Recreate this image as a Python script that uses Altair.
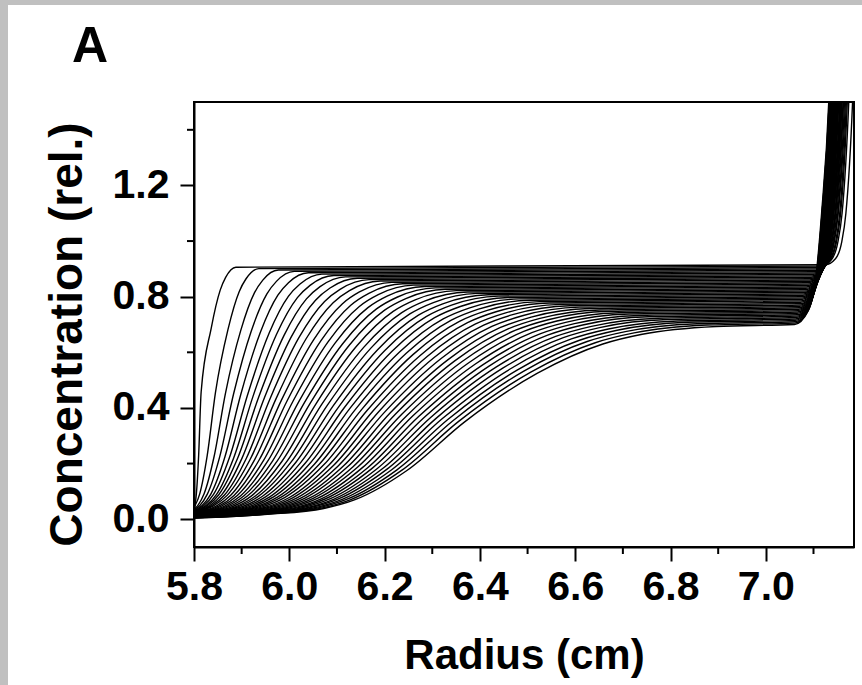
import altair as alt
import pandas as pd

# Axis tick positions
radius_ticks = [5.8, 6.0, 6.2, 6.4, 6.6, 6.8, 7.0]
radius_minor = [5.9, 6.1, 6.3, 6.5, 6.7, 6.9, 7.1]
conc_ticks = [0.0, 0.4, 0.8, 1.2]
conc_minor = [0.2, 0.6, 1.0, 1.4]

# One entry per scan (earliest first): radius at half plateau (cm)
boundary_mid = [5.815, 5.845, 5.866, 5.883, 5.898, 5.912, 5.924, 5.936, 5.948, 5.960,
                5.972, 5.984, 5.996, 6.008, 6.020, 6.032, 6.044, 6.056, 6.068, 6.080,
                6.092, 6.104, 6.116, 6.128, 6.140, 6.152, 6.164, 6.176, 6.188, 6.200,
                6.212, 6.224, 6.236, 6.248, 6.260, 6.272, 6.284, 6.296, 6.308, 6.320,
                6.332, 6.344, 6.356, 6.368]
# distance from half plateau down to 10 % of plateau (cm)
lower_spread = [0.010, 0.033, 0.045, 0.055, 0.063, 0.071, 0.077, 0.084, 0.090, 0.096,
                0.102, 0.107, 0.112, 0.117, 0.122, 0.127, 0.132, 0.136, 0.140, 0.145,
                0.149, 0.153, 0.157, 0.161, 0.165, 0.169, 0.173, 0.176, 0.180, 0.184,
                0.187, 0.191, 0.194, 0.198, 0.201, 0.204, 0.208, 0.211, 0.214, 0.218,
                0.221, 0.224, 0.227, 0.230]
# distance from half plateau up to 90 % of plateau (cm)
upper_spread = [0.040, 0.050, 0.061, 0.070, 0.078, 0.086, 0.093, 0.100, 0.107, 0.114,
                0.120, 0.127, 0.133, 0.139, 0.145, 0.151, 0.156, 0.162, 0.168, 0.173,
                0.179, 0.184, 0.189, 0.195, 0.200, 0.205, 0.210, 0.215, 0.220, 0.225,
                0.230, 0.235, 0.239, 0.244, 0.249, 0.254, 0.258, 0.263, 0.267, 0.272,
                0.277, 0.281, 0.286, 0.290]
# plateau concentration
plateau = [0.915, 0.910, 0.905, 0.900, 0.895, 0.890, 0.885, 0.880, 0.875, 0.870,
           0.865, 0.860, 0.855, 0.850, 0.845, 0.840, 0.835, 0.830, 0.825, 0.820,
           0.815, 0.810, 0.805, 0.800, 0.795, 0.790, 0.785, 0.780, 0.775, 0.770,
           0.765, 0.760, 0.755, 0.750, 0.745, 0.740, 0.735, 0.730, 0.725, 0.720,
           0.715, 0.710, 0.705, 0.700]
# pile-up at the cell bottom: radius where the rise starts, reaches 1.1 and reaches 1.5
wall_start = [7.125, 7.115, 7.111, 7.108, 7.105, 7.103, 7.101, 7.099, 7.097, 7.095,
              7.094, 7.092, 7.091, 7.089, 7.088, 7.087, 7.085, 7.084, 7.083, 7.082,
              7.081, 7.080, 7.078, 7.077, 7.076, 7.075, 7.074, 7.073, 7.073, 7.072,
              7.071, 7.070, 7.069, 7.068, 7.067, 7.066, 7.066, 7.065, 7.064, 7.063,
              7.062, 7.062, 7.061, 7.060]
wall_mid = [7.168, 7.160, 7.157, 7.155, 7.152, 7.151, 7.149, 7.147, 7.146, 7.145,
            7.143, 7.142, 7.141, 7.140, 7.139, 7.138, 7.137, 7.136, 7.135, 7.134,
            7.133, 7.132, 7.132, 7.131, 7.130, 7.129, 7.128, 7.128, 7.127, 7.126,
            7.125, 7.125, 7.124, 7.123, 7.123, 7.122, 7.121, 7.121, 7.120, 7.119,
            7.119, 7.118, 7.118, 7.117]
wall_top = [7.182, 7.174, 7.171, 7.169, 7.167, 7.165, 7.163, 7.162, 7.160, 7.159,
            7.158, 7.157, 7.156, 7.155, 7.153, 7.152, 7.151, 7.151, 7.150, 7.149,
            7.148, 7.147, 7.146, 7.145, 7.145, 7.144, 7.143, 7.142, 7.142, 7.141,
            7.140, 7.140, 7.139, 7.138, 7.138, 7.137, 7.136, 7.136, 7.135, 7.134,
            7.134, 7.133, 7.133, 7.132]

# Boundary profile: offsets in units of the spread, and fraction of the plateau
lower_offsets = [-3.5, -2.5, -1.8, -1.285, -1.0, -0.527, 0.0]
lower_fracs = [0.0, 0.006, 0.025, 0.055, 0.10, 0.25, 0.50]
upper_offsets = [0.527, 1.0, 1.285, 1.82]
upper_fracs = [0.75, 0.90, 0.95, 0.99]
# Knee of the rise at the cell bottom: (position between start and mid, rise fraction)
knee_pos = [0.5, 0.8]
knee_rise = [0.12, 0.45]
MID_LEVEL = 1.1
TOP_LEVEL = 1.5

rows = []
for s in range(len(boundary_mid)):
    m, lo, up, p = boundary_mid[s], lower_spread[s], upper_spread[s], plateau[s]
    pts = [(m + o * lo, f * p) for o, f in zip(lower_offsets, lower_fracs)]
    pts += [(m + o * up, f * p) for o, f in zip(upper_offsets, upper_fracs)]
    ws, wm, wt = wall_start[s], wall_mid[s], wall_top[s]
    pts.append((ws, p))
    pts += [(ws + a * (wm - ws), p + b * (MID_LEVEL - p)) for a, b in zip(knee_pos, knee_rise)]
    pts.append((wm, MID_LEVEL))
    pts.append((wt, TOP_LEVEL))
    pts.append((wt + 0.008, 1.9))
    for k, (r, c) in enumerate(pts):
        rows.append({"scan": s, "k": k, "r": r, "c": c})
scans = pd.DataFrame(rows)

FONT = "Liberation Sans"
W, H = 660, 445
x_scale = alt.Scale(domain=[5.8, 7.185], nice=False, zero=False)
y_scale = alt.Scale(domain=[-0.1, 1.5], nice=False, zero=False)

x_axis = alt.Axis(
    values=radius_ticks, format=".1f", title="Radius (cm)",
    tickSize=14, tickWidth=2, tickColor="black",
    domainColor="black", domainWidth=2, grid=False,
    labelFont=FONT, labelFontSize=41, labelFontWeight="bold", labelColor="black",
    labelPadding=6, labelFlush=False, labelOverlap=False,
    titleFont=FONT, titleFontSize=42, titleFontWeight="bold", titleColor="black",
    titleY=121, titleBaseline="alphabetic")
y_axis = alt.Axis(
    values=conc_ticks, format=".1f", title="Concentration (rel.)",
    tickSize=14, tickWidth=2, tickColor="black",
    domainColor="black", domainWidth=2, grid=False,
    labelFont=FONT, labelFontSize=41, labelFontWeight="bold", labelColor="black",
    labelPadding=11, labelOverlap=False,
    titleFont=FONT, titleFontSize=46, titleFontWeight="bold", titleColor="black",
    titleX=-113, titleY=232, titleAngle=270, titleAlign="center",
    titleBaseline="alphabetic")

lines = alt.Chart(scans).mark_line(
    interpolate="monotone", clip=True, color="black", strokeWidth=1.4
).encode(
    x=alt.X("r:Q", scale=x_scale, axis=x_axis),
    y=alt.Y("c:Q", scale=y_scale, axis=y_axis),
    detail="scan:N",
    order="k:Q",
)

# Minor ticks, drawn outward from the axis lines
x_minor = alt.Chart(pd.DataFrame({"r": radius_minor})).mark_rule(
    color="black", strokeWidth=2
).encode(x=alt.X("r:Q", scale=x_scale, axis=x_axis), y=alt.value(H), y2=alt.value(H + 7))

y_minor = alt.Chart(pd.DataFrame({"c": conc_minor})).mark_rule(
    color="black", strokeWidth=2
).encode(y=alt.Y("c:Q", scale=y_scale, axis=y_axis), x=alt.value(0), x2=alt.value(-7))

one = pd.DataFrame({"a": [0]})
border_color = "#c0c0c0"
left_strip = alt.Chart(one).mark_rect(color=border_color).encode(
    x=alt.value(-194), x2=alt.value(-186), y=alt.value(-102), y2=alt.value(H + 138))
top_strip = alt.Chart(one).mark_rect(color=border_color).encode(
    x=alt.value(-194), x2=alt.value(W + 8), y=alt.value(-102), y2=alt.value(-97))

panel_label = alt.Chart(one).mark_text(
    text="A", font=FONT, fontSize=50, fontWeight="bold", color="black",
    align="left", baseline="alphabetic"
).encode(x=alt.value(-122), y=alt.value(-40))

chart = alt.layer(
    left_strip, top_strip, lines, x_minor, y_minor, panel_label
).properties(
    width=W, height=H,
    autosize=alt.AutoSizeParams(type="none"),
    padding={"left": 194, "top": 102, "right": 8, "bottom": 138},
    background="white",
).configure_view(stroke="black", strokeWidth=2, fill="white")

chart.save("out.html", embed_options={"renderer": "svg", "actions": False})
